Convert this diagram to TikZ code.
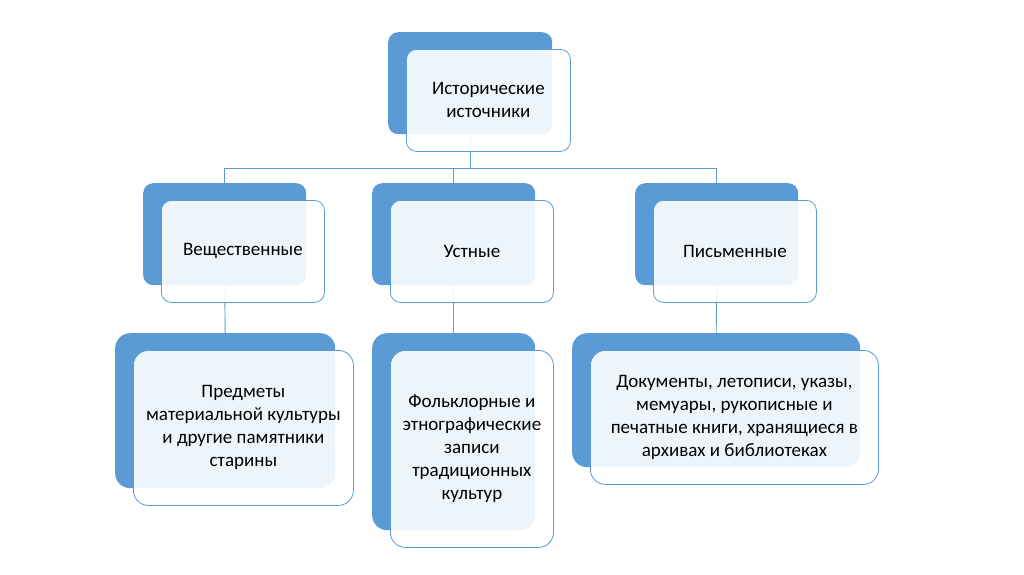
\documentclass[tikz,border=0pt]{standalone}
\usepackage{fontspec}
\setmainfont{Carlito}
\usepackage{xcolor}
\definecolor{boxblue}{RGB}{91,155,213}
\usetikzlibrary{positioning,backgrounds}

\begin{document}
\begin{tikzpicture}[x=1pt,y=-1pt,
  back/.style={fill=boxblue,rounded corners=10pt,inner sep=0pt,anchor=north west},
  front/.style={draw=boxblue,line width=0.8pt,fill=white,fill opacity=0.9,text opacity=1,
    rounded corners=10pt,inner sep=0pt,align=center,anchor=north west,
    xshift=18pt,yshift=-17pt,font=\fontsize{19}{23}\selectfont},
  link/.style={draw=boxblue,line width=0.9pt}]
\useasboundingbox (0,0) rectangle (1024,574);
% root
\node[back,minimum width=164pt,minimum height=102pt] (hist-b) at (388,32) {};
\node[front,minimum width=164pt,minimum height=102pt] (hist) at (hist-b.north west) {Исторические\\источники};
% second row
\foreach \n/\x/\t in {vesh/143/Вещественные, ustn/372/Устные, pism/635/Письменные} {
  \node[back,minimum width=163pt,minimum height=102pt] (\n-b) at (\x,183) {};
  \node[front,minimum width=163pt,minimum height=102pt] (\n) at (\n-b.north west) {\t};
}
% third row
\node[back,rounded corners=15pt,minimum width=220pt,minimum height=155pt] (pred-b) at (115,333) {};
\node[front,rounded corners=15pt,minimum width=220pt,minimum height=155pt] (pred) at (pred-b.north west)
  {Предметы\\материальной культуры\\и другие памятники\\старины};
\node[back,rounded corners=15pt,minimum width=163pt,minimum height=197pt] (folk-b) at (372,333) {};
\node[front,rounded corners=15pt,minimum width=163pt,minimum height=197pt] (folk) at (folk-b.north west)
  {Фольклорные и\\этнографические\\записи\\традиционных\\культур};
\node[back,rounded corners=15pt,minimum width=288pt,minimum height=134pt] (doc-b) at (572,333) {};
\node[front,rounded corners=15pt,minimum width=288pt,minimum height=134pt] (doc) at (doc-b.north west)
  {Документы, летописи, указы,\\мемуары, рукописные и\\печатные книги, хранящиеся в\\архивах и библиотеках};
% connectors
\begin{scope}[on background layer]
\draw[link] (hist-b.south) -- ++(0,34) coordinate (bus) -| (vesh-b.north);
\draw[link] (bus) -| (ustn-b.north);
\draw[link] (bus) -| (pism-b.north);
\draw[link] (vesh-b.south) -- (pred-b.north);
\draw[link] (ustn-b.south) -- (folk-b.north);
\draw[link] (pism-b.south) -- (doc-b.north);
\end{scope}
\end{tikzpicture}
\end{document}
